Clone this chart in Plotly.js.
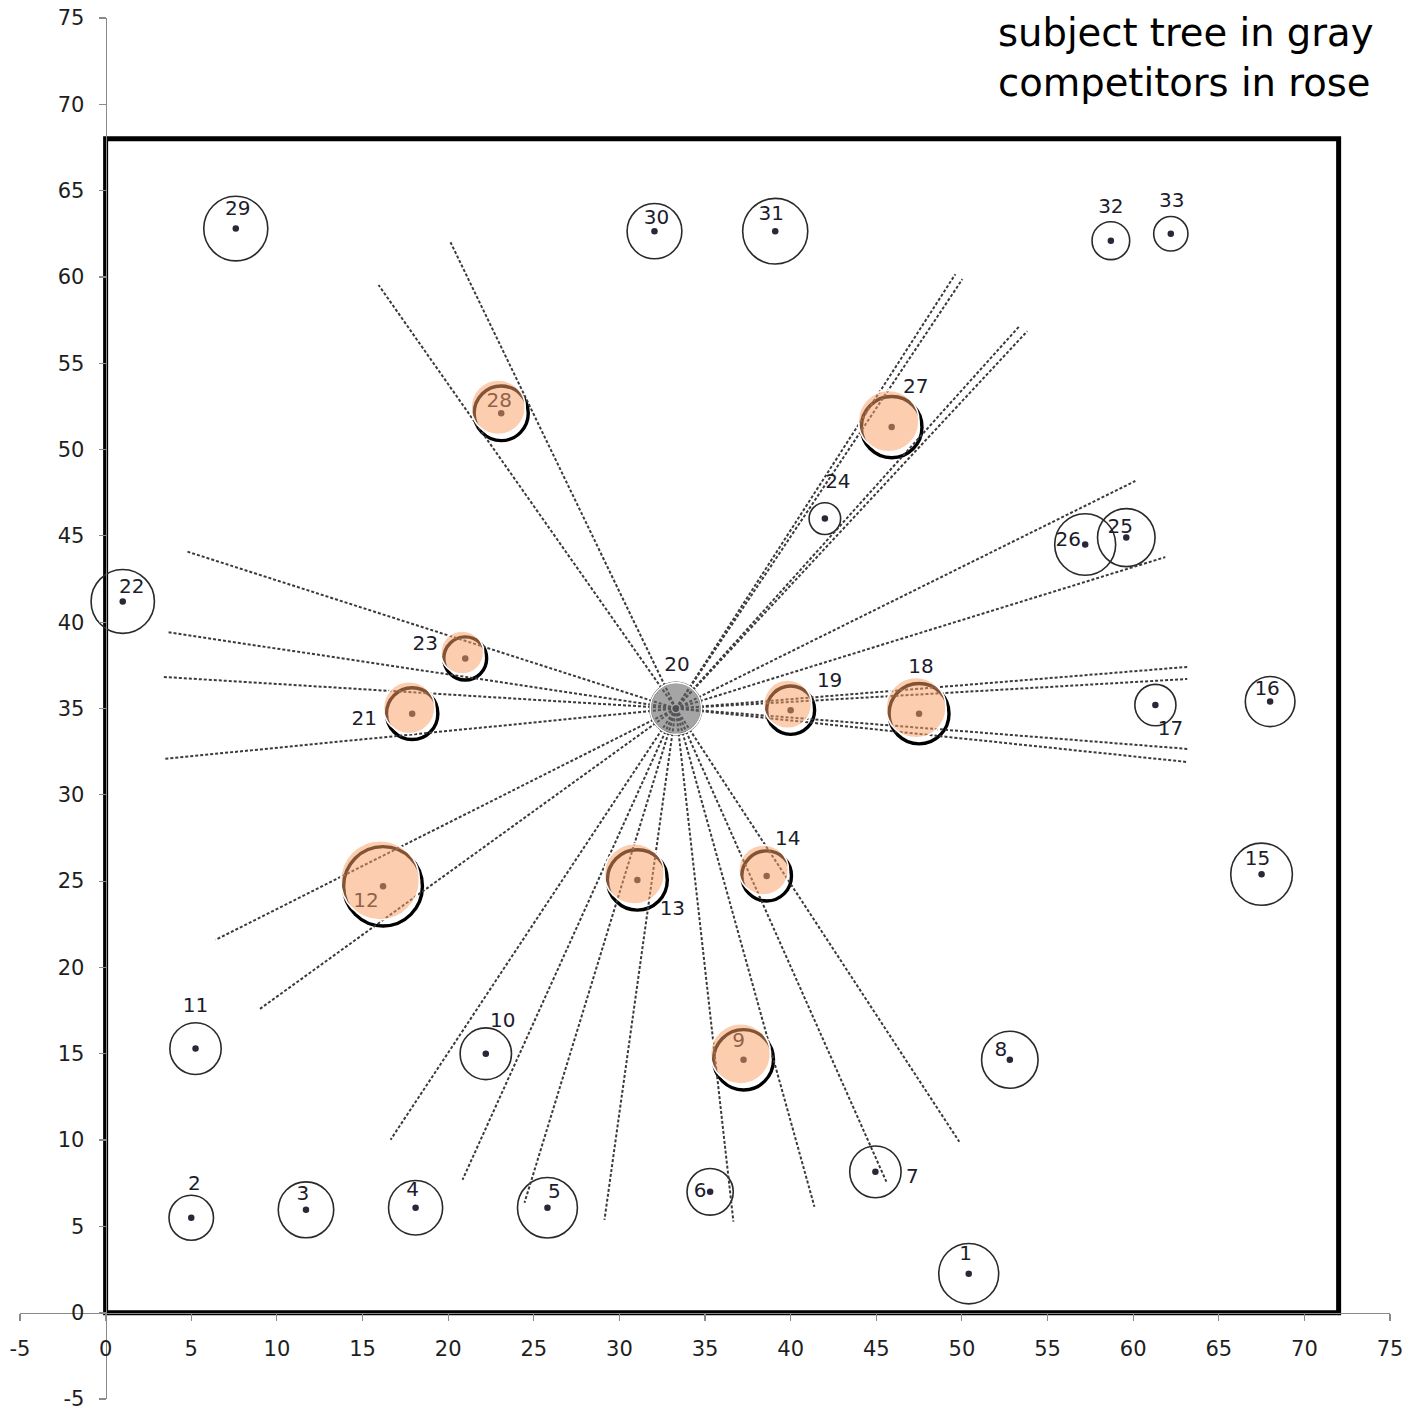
<!DOCTYPE html>
<html>
<head>
<meta charset="utf-8">
<script src="https://cdn.plot.ly/plotly-3.0.1.min.js"></script>
<style>
  html, body { margin: 0; padding: 0; background: #fff; }
  #chart { width: 1412px; height: 1410px; }
</style>
</head>
<body>
<div id="chart"></div>
<script>
// Stand map: tree numbers, stem positions (m) and crown radii (m)
const treeId = [1, 2, 3, 4, 5, 6, 7, 8, 9, 10, 11, 12, 13, 14, 15, 16, 17,
                18, 19, 20, 21, 22, 23, 24, 25, 26, 27, 28, 29, 30, 31, 32, 33];
const treeX = [50.4, 5.0, 11.7, 18.1, 25.8, 35.3, 44.95, 52.8, 37.25, 22.2, 5.25,
               16.2, 31.05, 38.6, 67.5, 68.0, 61.3, 47.5, 40.0, 33.3, 17.9, 1.0,
               21.0, 42.0, 59.6, 57.2, 45.9, 23.1, 7.6, 32.05, 39.1, 58.7, 62.2];
const treeY = [2.26, 5.5, 5.96, 6.08, 6.08, 7.0, 8.16, 14.65, 14.65, 15.0, 15.3,
               24.7, 25.07, 25.3, 25.4, 35.4, 35.2, 34.7, 34.9, 35.0, 34.7, 41.2,
               37.9, 46.0, 44.9, 44.5, 51.3, 52.1, 62.8, 62.65, 62.65, 62.1, 62.5];
const crownR = [1.75, 1.3, 1.62, 1.58, 1.75, 1.35, 1.5, 1.65, 1.75, 1.5, 1.5,
                2.3, 1.75, 1.45, 1.8, 1.45, 1.2, 1.75, 1.4, 1.5, 1.5, 1.85,
                1.25, 0.92, 1.68, 1.78, 1.77, 1.58, 1.87, 1.6, 1.9, 1.1, 1.0];

// Subject tree and its competitors
const subjectTree = 20;
const competitorTrees = [9, 12, 13, 14, 18, 19, 21, 23, 27, 28];

// Far ends of the sight lines drawn out from the subject tree
const rayEndX = [15.94, 20.14, 49.62, 50.03, 53.36, 53.82, 60.13, 61.88,
                 63.16, 63.16, 63.16, 63.16, 4.67, 3.56, 3.33, 3.39, 6.42, 8.93,
                 16.64, 20.84, 24.46, 29.13, 36.66, 41.39, 45.59, 49.85];
const rayEndY = [59.53, 62.01, 60.16, 59.87, 57.15, 56.86, 48.18, 43.77,
                 37.41, 36.71, 32.66, 31.9, 44.12, 39.43, 36.83, 32.08, 21.6, 17.54,
                 10.02, 7.7, 6.37, 5.38, 5.27, 6.14, 7.59, 9.9];

// Plot frame (stand boundary)
const plotWidthM = 72;
const plotDepthM = 68;

// Axis ticks
const tickValues = [-5, 0, 5, 10, 15, 20, 25, 30, 35, 40, 45, 50, 55, 60, 65, 70, 75];

// Number label nudges in screen pixels (right, down)
const labelShiftPx = [[-3,-19],[3,-33],[-3,-15],[-3,-17],[7,-15],[-10,0],[37,6],
  [-9,-9],[-5,-18],[17,-32],[0,-42],[-17,16],[35,30],[21,-36],[-4,-14],[-3,-12],
  [15,25],[2,-46],[39,-28],[1,-43],[-48,6],[9,-13],[-40,-13],[13,-36],[-6,-10],
  [-17,-4],[24,-39],[-2,-11],[2,-19],[2,-12],[-4,-16],[0,-33],[1,-32]];

const W = 1412, H = 1410;
const margin = {l: 20, r: 22, t: 18, b: 11};
const xRange = [-5, 75], yRange = [-5, 75];
const pxPerX = (W - margin.l - margin.r) / (xRange[1] - xRange[0]);
const pxPerY = (H - margin.t - margin.b) / (yRange[1] - yRange[0]);

const FONT = 'DejaVu Sans, Verdana, sans-serif';

const shapes = [];

// stand boundary
shapes.push({
  type: 'rect', xref: 'x', yref: 'y', x0: 0, y0: 0, x1: plotWidthM, y1: plotDepthM,
  line: {color: '#000', width: 5}, layer: 'below'
});

// crown outlines
treeId.forEach((id, i) => {
  const isComp = competitorTrees.includes(id);
  const isSubj = id === subjectTree;
  const r = crownR[i];
  shapes.push({
    type: 'circle', xref: 'x', yref: 'y',
    x0: treeX[i] - r, x1: treeX[i] + r, y0: treeY[i] - r, y1: treeY[i] + r,
    line: {color: isComp ? '#000' : '#2a2a2a', width: isComp ? 3.4 : (isSubj ? 2 : 1.6)},
    layer: 'below'
  });
});

// translucent crown fills laid over the map
const fillShiftX = -3 / pxPerX, fillShiftY = 6 / pxPerY;
treeId.forEach((id, i) => {
  const isComp = competitorTrees.includes(id);
  const isSubj = id === subjectTree;
  if (!isComp && !isSubj) return;
  const r = crownR[i];
  const cx = treeX[i] + (isComp ? fillShiftX : 0);
  const cy = treeY[i] + (isComp ? fillShiftY : 0);
  shapes.push({
    type: 'circle', xref: 'x', yref: 'y',
    x0: cx - r, x1: cx + r, y0: cy - r, y1: cy + r,
    fillcolor: isComp ? 'rgba(249,160,102,0.52)' : 'rgba(105,105,105,0.6)',
    line: {color: '#ffffff', width: 1.6},
    layer: 'above'
  });
});

// sight lines from the subject tree
const si = treeId.indexOf(subjectTree);
const rayX = [], rayY = [];
rayEndX.forEach((ex, k) => {
  rayX.push(treeX[si], ex, null);
  rayY.push(treeY[si], rayEndY[k], null);
});

const rays = {
  x: rayX, y: rayY, mode: 'lines', type: 'scatter', hoverinfo: 'skip',
  line: {color: '#3a3a3a', width: 2, dash: '3px,2px'}, showlegend: false
};

const stems = {
  x: treeX, y: treeY, mode: 'markers', type: 'scatter',
  marker: {size: 6.5, color: '#2b2638'}, showlegend: false, hoverinfo: 'skip'
};

const labels = {
  x: treeX.map((x, i) => x + labelShiftPx[i][0] / pxPerX),
  y: treeY.map((y, i) => y - labelShiftPx[i][1] / pxPerY),
  text: treeId.map(String), mode: 'text', type: 'scatter',
  textposition: 'middle center',
  textfont: {family: FONT, size: 20, color: '#1c1c2c'},
  showlegend: false, hoverinfo: 'skip'
};

const axisCommon = {
  tickmode: 'array', tickvals: tickValues, ticktext: tickValues.map(String),
  showgrid: false, zeroline: false, showline: true,
  linecolor: '#8a8a8a', linewidth: 1.2,
  ticks: 'outside', ticklen: 7, tickcolor: '#8a8a8a', tickwidth: 1.2,
  tickfont: {family: FONT, size: 21, color: '#1e1e1e'},
  ticklabeloverflow: 'allow',
  anchor: 'free', fixedrange: true, ticklabelstandoff: 10
};

const layout = {
  width: W, height: H, margin: margin,
  paper_bgcolor: '#fff', plot_bgcolor: '#fff',
  showlegend: false,
  xaxis: Object.assign({}, axisCommon, {
    range: xRange, position: (0 - yRange[0]) / (yRange[1] - yRange[0])
  }),
  yaxis: Object.assign({}, axisCommon, {
    range: yRange, position: (0 - xRange[0]) / (xRange[1] - xRange[0])
  }),
  shapes: shapes,
  annotations: [{
    xref: 'paper', yref: 'paper',
    x: (996 - margin.l) / (W - margin.l - margin.r), xanchor: 'left',
    y: 1 + 10 / (H - margin.t - margin.b), yanchor: 'top',
    align: 'left', showarrow: false,
    text: 'subject tree in gray<br>competitors in rose',
    font: {family: FONT, size: 38.5, color: '#000'}
  }]
};

Plotly.newPlot('chart', [rays, stems, labels], layout, {staticPlot: true, displayModeBar: false});
</script>
</body>
</html>
